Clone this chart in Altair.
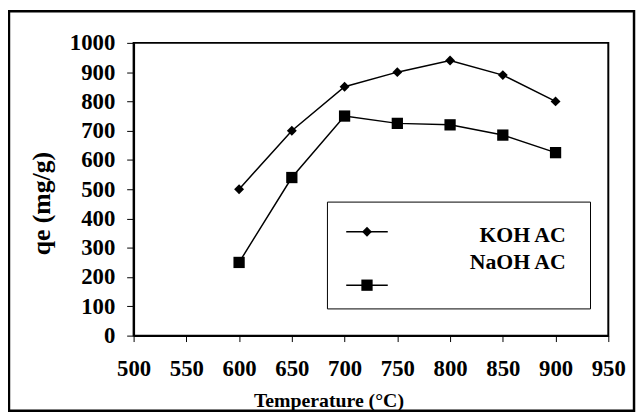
import altair as alt
import pandas as pd

temperature = [600, 650, 700, 750, 800, 850, 900]
koh_qe = [500, 700, 850, 900, 940, 890, 800]
naoh_qe = [250, 540, 750, 725, 720, 685, 625]
series_names = ["KOH AC", "NaOH AC"]
shapes = ["diamond", "square"]
sizes = [100, 130]

x_ticks = [500, 550, 600, 650, 700, 750, 800, 850, 900, 950]
y_ticks = [0, 100, 200, 300, 400, 500, 600, 700, 800, 900, 1000]

rows = []
for t, k, n in zip(temperature, koh_qe, naoh_qe):
    rows.append({"temperature": t, "qe": k, "series": series_names[0]})
    rows.append({"temperature": t, "qe": n, "series": series_names[1]})
df = pd.DataFrame(rows)
legend_df = pd.DataFrame({"series": series_names})

FONT = "Liberation Serif"

x_enc = alt.X("temperature:Q",
              scale=alt.Scale(domain=[500, 950], nice=False, zero=False),
              axis=alt.Axis(values=x_ticks, title="Temperature (°C)", grid=False,
                            format="d", labelOverlap=False,
                            labelFont=FONT, labelFontSize=23, labelFontWeight="bold",
                            labelColor="black", labelPadding=16, tickSize=6,
                            tickColor="black", tickWidth=1, domainColor="black",
                            domainWidth=2, labelFlush=False,
                            titleFont=FONT, titleFontSize=20, titleFontWeight="bold",
                            titleColor="black", titleX=197, titleY=72,
                            titleBaseline="alphabetic", titleAlign="center"))
y_enc = alt.Y("qe:Q",
              scale=alt.Scale(domain=[0, 1000], nice=False),
              axis=alt.Axis(values=y_ticks, title="qe (mg/g)", grid=False,
                            format="d", labelOverlap=False,
                            labelFont=FONT, labelFontSize=23, labelFontWeight="bold",
                            labelColor="black", labelPadding=12, tickSize=7,
                            tickColor="black", tickWidth=1, domainColor="black",
                            domainWidth=2, labelFlush=False,
                            titleFont=FONT, titleFontSize=26, titleFontWeight="bold",
                            titleColor="black", titleX=-80, titleY=162,
                            titleAngle=270, titleBaseline="bottom", titleAlign="center"))

shape_scale = alt.Scale(domain=series_names, range=shapes)
size_scale = alt.Scale(domain=series_names, range=sizes)

lines = alt.Chart(df).mark_line(color="black", strokeWidth=1.5).encode(
    x=x_enc, y=y_enc, detail="series:N")
points = alt.Chart(df).mark_point(filled=True, color="black", opacity=1).encode(
    x=x_enc, y=y_enc,
    shape=alt.Shape("series:N", scale=shape_scale, legend=None),
    size=alt.Size("series:N", scale=size_scale, legend=None))

frame = alt.Chart(legend_df.head(1)).mark_rect(
    fill=None, stroke="black", strokeWidth=2.5).encode(
    x=alt.value(-126), x2=alt.value(506), y=alt.value(-32), y2=alt.value(372))

legend_box = alt.Chart(legend_df.head(1)).mark_rect(
    fill="white", stroke="black", strokeWidth=1).encode(
    x=alt.value(196), x2=alt.value(462), y=alt.value(161), y2=alt.value(269))

legend_layers = []
sym_y = [191, 245]
txt_y = [201, 229]
for i, name in enumerate(series_names):
    sub = alt.Chart(legend_df).transform_filter(alt.datum.series == name)
    legend_layers.append(sub.mark_rule(color="black", strokeWidth=1.5).encode(
        x=alt.value(215), x2=alt.value(257), y=alt.value(sym_y[i])))
    legend_layers.append(sub.mark_point(filled=True, color="black", opacity=1).encode(
        x=alt.value(236), y=alt.value(sym_y[i]),
        shape=alt.Shape("series:N", scale=shape_scale, legend=None),
        size=alt.Size("series:N", scale=size_scale, legend=None)))
    legend_layers.append(sub.mark_text(font=FONT, fontSize=22, fontWeight="bold",
                                       align="right", baseline="alphabetic",
                                       color="black").encode(
        x=alt.value(437), y=alt.value(txt_y[i]), text="series:N"))

chart = alt.layer(frame, lines, points, legend_box, *legend_layers).properties(
    width=480, height=296,
    autosize=alt.AutoSizeParams(type="none"),
    padding={"left": 127, "top": 33, "right": 28, "bottom": 78},
).configure(font=FONT).configure_view(stroke="black", strokeWidth=2)

chart.save("out.html", embed_options={"renderer": "svg", "actions": False})
